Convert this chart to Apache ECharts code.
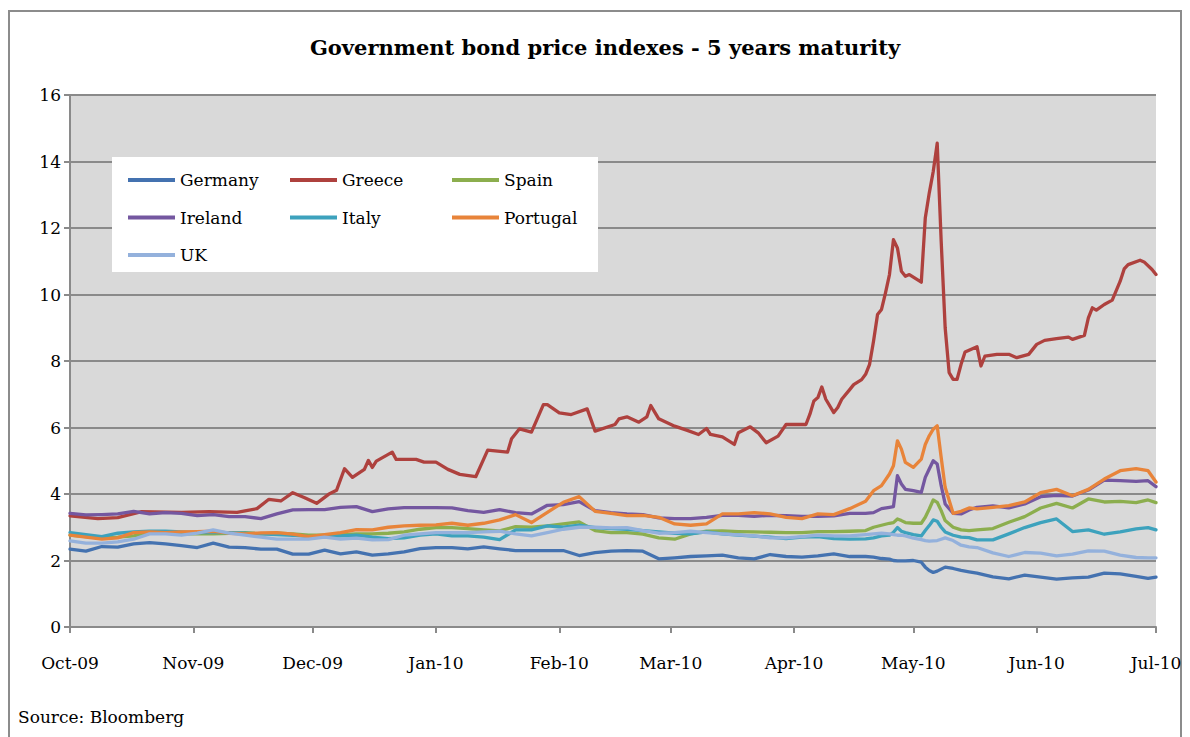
<!DOCTYPE html>
<html>
<head>
<meta charset="utf-8">
<script src="https://cdn.jsdelivr.net/npm/echarts@6/dist/echarts.min.js"></script>
<style>
  html, body { margin: 0; padding: 0; background: #fff; }
  #chart { width: 1190px; height: 737px; }
</style>
</head>
<body>
<div id="chart"></div>
<script>
// ---------------- DATA ----------------
const titleText = 'Government bond price indexes - 5 years maturity';
const sourceText = 'Source: Bloomberg';
const seriesNames = ['Germany', 'Greece', 'Spain', 'Ireland', 'Italy', 'Portugal', 'UK'];
const monthTicks = ['2009-10-01','2009-11-01','2009-12-01','2010-01-01','2010-02-01','2010-03-01',
                    '2010-04-01','2010-05-01','2010-06-01','2010-07-01'];
const monthNames = ['Jan','Feb','Mar','Apr','May','Jun','Jul','Aug','Sep','Oct','Nov','Dec'];
const yTicks = [0, 2, 4, 6, 8, 10, 12, 14, 16];

// Greece (own, finer sampling)
const greeceDates = [
 '2009-10-01','2009-10-08','2009-10-13','2009-10-19','2009-10-29','2009-11-05','2009-11-12','2009-11-17',
 '2009-11-20','2009-11-23','2009-11-26','2009-11-29','2009-12-02','2009-12-05','2009-12-07','2009-12-09',
 '2009-12-11','2009-12-14','2009-12-15','2009-12-16','2009-12-17','2009-12-21','2009-12-22','2009-12-27',
 '2009-12-29','2010-01-01','2010-01-04','2010-01-07','2010-01-11','2010-01-14','2010-01-19','2010-01-20',
 '2010-01-22','2010-01-25','2010-01-28','2010-01-29','2010-02-01','2010-02-04','2010-02-08','2010-02-10',
 '2010-02-15','2010-02-16','2010-02-18','2010-02-21','2010-02-23','2010-02-24','2010-02-26','2010-03-02',
 '2010-03-05','2010-03-08','2010-03-10','2010-03-11','2010-03-14','2010-03-17','2010-03-18','2010-03-21',
 '2010-03-23','2010-03-25','2010-03-28','2010-03-30','2010-04-04','2010-04-05','2010-04-06','2010-04-07',
 '2010-04-08','2010-04-09','2010-04-11','2010-04-12','2010-04-13','2010-04-15','2010-04-16','2010-04-18',
 '2010-04-19','2010-04-20','2010-04-21','2010-04-22','2010-04-23','2010-04-24','2010-04-25','2010-04-26',
 '2010-04-27','2010-04-28','2010-04-29','2010-04-30','2010-05-03','2010-05-04','2010-05-05','2010-05-06',
 '2010-05-07','2010-05-08','2010-05-09','2010-05-10','2010-05-11','2010-05-12','2010-05-13','2010-05-14',
 '2010-05-17','2010-05-18','2010-05-19','2010-05-22','2010-05-25','2010-05-27','2010-05-30','2010-06-01',
 '2010-06-03','2010-06-06','2010-06-09','2010-06-10','2010-06-13','2010-06-14','2010-06-15','2010-06-16',
 '2010-06-18','2010-06-20','2010-06-22','2010-06-23','2010-06-24','2010-06-27','2010-06-28','2010-06-30',
 '2010-07-01'];
const greece = [
 3.34,3.26,3.29,3.47,3.45,3.47,3.45,3.56,
 3.84,3.79,4.04,3.89,3.72,3.99,4.11,4.76,
 4.50,4.74,5.01,4.80,4.99,5.26,5.04,5.04,
 4.96,4.96,4.74,4.59,4.52,5.32,5.26,5.66,
 5.96,5.86,6.69,6.69,6.44,6.39,6.56,5.89,
 6.09,6.26,6.32,6.16,6.32,6.66,6.26,6.04,
 5.92,5.79,5.97,5.79,5.72,5.49,5.84,6.02,
 5.84,5.54,5.74,6.09,6.09,6.40,6.80,6.90,
 7.22,6.85,6.45,6.60,6.85,7.14,7.29,7.44,
 7.60,7.90,8.60,9.40,9.55,10.05,10.60,11.65,
 11.40,10.70,10.55,10.60,10.37,12.30,13.05,13.70,
 14.55,11.60,9.00,7.65,7.45,7.45,7.90,8.27,
 8.43,7.85,8.15,8.20,8.20,8.10,8.20,8.50,
 8.62,8.67,8.72,8.65,8.77,9.30,9.60,9.53,
 9.70,9.83,10.40,10.77,10.90,11.03,10.98,10.75,
 10.60];

// Shared sampling for the other six series
const dates = [
 '2009-10-01','2009-10-05','2009-10-09','2009-10-13','2009-10-17','2009-10-21','2009-10-25','2009-10-29',
 '2009-11-02','2009-11-06','2009-11-10','2009-11-14','2009-11-18','2009-11-22','2009-11-26','2009-11-30',
 '2009-12-04','2009-12-08','2009-12-12','2009-12-16','2009-12-20','2009-12-24','2009-12-28','2010-01-01',
 '2010-01-05','2010-01-09','2010-01-13','2010-01-17','2010-01-21','2010-01-25','2010-01-29','2010-02-02',
 '2010-02-06','2010-02-10','2010-02-14','2010-02-18','2010-02-22','2010-02-26','2010-03-02','2010-03-06',
 '2010-03-10','2010-03-14','2010-03-18','2010-03-22','2010-03-26','2010-03-30','2010-04-03','2010-04-07',
 '2010-04-11','2010-04-15','2010-04-19','2010-04-21','2010-04-23','2010-04-25','2010-04-26','2010-04-27',
 '2010-04-28','2010-04-29','2010-05-01','2010-05-03','2010-05-04','2010-05-05','2010-05-06','2010-05-07',
 '2010-05-08','2010-05-09','2010-05-11','2010-05-13','2010-05-15','2010-05-17','2010-05-21','2010-05-25',
 '2010-05-29','2010-06-02','2010-06-06','2010-06-10','2010-06-14','2010-06-18','2010-06-22','2010-06-26',
 '2010-06-29','2010-07-01'];

const germany = [
 2.34,2.28,2.42,2.40,2.50,2.54,2.50,2.45,
 2.39,2.52,2.40,2.39,2.34,2.34,2.19,2.19,
 2.31,2.20,2.26,2.16,2.20,2.26,2.36,2.39,
 2.39,2.35,2.41,2.35,2.30,2.30,2.30,2.30,
 2.15,2.24,2.28,2.30,2.28,2.05,2.08,2.12,
 2.14,2.16,2.08,2.05,2.18,2.12,2.10,2.14,
 2.20,2.12,2.12,2.10,2.06,2.04,2.00,1.99,
 1.99,1.99,2.00,1.95,1.80,1.70,1.64,1.68,
 1.74,1.80,1.76,1.70,1.66,1.62,1.51,1.45,
 1.56,1.50,1.44,1.48,1.50,1.62,1.60,1.52,
 1.46,1.50];

const spain = [
 2.76,2.72,2.68,2.70,2.74,2.82,2.84,2.80,
 2.80,2.80,2.82,2.84,2.80,2.82,2.80,2.76,
 2.76,2.78,2.80,2.80,2.82,2.86,2.94,2.99,
 2.99,2.96,2.92,2.89,3.02,3.00,3.04,3.10,
 3.16,2.90,2.84,2.84,2.79,2.68,2.64,2.80,
 2.88,2.89,2.87,2.86,2.85,2.84,2.84,2.87,
 2.87,2.88,2.90,3.00,3.06,3.12,3.14,3.25,
 3.20,3.14,3.12,3.12,3.30,3.55,3.82,3.75,
 3.50,3.20,3.00,2.92,2.90,2.92,2.96,3.15,
 3.32,3.58,3.72,3.58,3.85,3.76,3.78,3.74,
 3.82,3.74];

const ireland = [
 3.42,3.37,3.38,3.40,3.48,3.40,3.44,3.42,
 3.35,3.38,3.32,3.32,3.26,3.40,3.52,3.53,
 3.53,3.60,3.62,3.47,3.55,3.59,3.59,3.59,
 3.58,3.50,3.45,3.53,3.44,3.40,3.66,3.68,
 3.77,3.50,3.44,3.40,3.38,3.28,3.26,3.26,
 3.30,3.36,3.36,3.33,3.36,3.35,3.33,3.33,
 3.34,3.42,3.42,3.44,3.56,3.60,3.62,4.55,
 4.30,4.14,4.10,4.05,4.50,4.75,5.00,4.90,
 4.25,3.70,3.42,3.40,3.52,3.60,3.64,3.58,
 3.70,3.92,3.96,3.94,4.12,4.42,4.40,4.38,
 4.40,4.22];

const italy = [
 2.84,2.78,2.72,2.82,2.86,2.88,2.88,2.86,
 2.84,2.84,2.84,2.82,2.80,2.78,2.76,2.72,
 2.72,2.74,2.76,2.70,2.66,2.68,2.76,2.80,
 2.74,2.74,2.70,2.63,2.92,2.92,3.04,3.00,
 3.06,2.99,2.96,2.94,2.90,2.86,2.82,2.80,
 2.86,2.80,2.76,2.73,2.70,2.66,2.70,2.72,
 2.66,2.64,2.65,2.68,2.74,2.76,2.85,2.99,
 2.88,2.84,2.78,2.74,2.90,3.05,3.22,3.18,
 3.00,2.86,2.76,2.70,2.69,2.62,2.62,2.80,
 2.99,3.14,3.25,2.87,2.92,2.79,2.86,2.95,
 2.99,2.92];

const portugal = [
 2.76,2.70,2.64,2.68,2.84,2.86,2.84,2.86,
 2.87,2.88,2.82,2.80,2.83,2.84,2.79,2.72,
 2.78,2.84,2.93,2.92,3.00,3.04,3.06,3.07,
 3.12,3.06,3.12,3.22,3.38,3.14,3.45,3.75,
 3.92,3.48,3.42,3.35,3.36,3.30,3.10,3.06,
 3.10,3.40,3.40,3.44,3.40,3.30,3.26,3.40,
 3.38,3.56,3.78,4.10,4.25,4.60,4.85,5.60,
 5.35,4.95,4.80,5.05,5.49,5.75,5.95,6.05,
 5.10,4.20,3.42,3.48,3.58,3.55,3.60,3.65,
 3.76,4.04,4.14,3.95,4.14,4.45,4.70,4.76,
 4.70,4.36];

const uk = [
 2.59,2.52,2.52,2.56,2.64,2.80,2.80,2.76,
 2.82,2.92,2.82,2.76,2.70,2.64,2.64,2.64,
 2.70,2.64,2.67,2.62,2.63,2.76,2.80,2.84,
 2.84,2.84,2.86,2.88,2.80,2.74,2.84,2.94,
 3.00,3.00,2.98,2.99,2.90,2.82,2.84,2.88,
 2.84,2.80,2.77,2.74,2.68,2.68,2.72,2.76,
 2.74,2.74,2.78,2.80,2.82,2.80,2.78,2.76,
 2.76,2.74,2.67,2.63,2.60,2.58,2.59,2.60,
 2.64,2.68,2.60,2.46,2.41,2.39,2.23,2.12,
 2.24,2.22,2.14,2.19,2.29,2.28,2.16,2.09,
 2.08,2.08];

// ---------------- STYLE ----------------
const colors = {
  Germany: '#4472B0', Greece: '#AE413E', Spain: '#8CAE4E', Ireland: '#7457A0',
  Italy: '#3DA2BD', Portugal: '#E8843A', UK: '#94B1DC'
};
const FONT = '"DejaVu Serif", "Liberation Serif", serif';
const GRAY = '#8A8A8A';

function localTime(s) { return +new Date(s + 'T00:00:00'); }
function pairs(ds, vs) { return ds.map((d, i) => [localTime(d), vs[i]]); }

const seriesData = {
  Germany: pairs(dates, germany),
  Greece: pairs(greeceDates, greece),
  Spain: pairs(dates, spain),
  Ireland: pairs(dates, ireland),
  Italy: pairs(dates, italy),
  Portugal: pairs(dates, portugal),
  UK: pairs(dates, uk)
};
const monthTickValues = monthTicks.map(localTime);

const chart = echarts.init(document.getElementById('chart'), null, { renderer: 'svg' });

const legendCommon = {
  orient: 'vertical', top: 170, padding: 0,
  itemWidth: 47, itemHeight: 4, itemGap: 17.5, icon: 'rect',
  textStyle: { fontFamily: FONT, fontSize: 17, color: '#000', lineHeight: 20 },
  z: 101, selectedMode: false
};

const option = {
  animation: false,
  backgroundColor: '#fff',
  grid: { left: 70, right: 34, top: 95, bottom: 110, show: true, backgroundColor: '#D9D9D9', borderWidth: 0 },
  xAxis: {
    type: 'value',
    min: monthTickValues[0],
    max: monthTickValues[monthTickValues.length - 1],
    axisLine: { show: true, lineStyle: { color: GRAY, width: 2 } },
    axisTick: { show: true, length: 6, lineStyle: { color: GRAY, width: 2 },
                customValues: monthTickValues },
    axisLabel: {
      customValues: monthTickValues,
      showMinLabel: true, showMaxLabel: true,
      fontFamily: FONT, fontSize: 17, color: '#000', margin: 27,
      formatter: function (v) {
        const d = new Date(v);
        return monthNames[d.getMonth()] + '-' + String(d.getFullYear() % 100).padStart(2, '0');
      }
    },
    splitLine: { show: false }
  },
  yAxis: {
    type: 'value', min: yTicks[0], max: yTicks[yTicks.length - 1], interval: 2,
    axisLine: { show: true, lineStyle: { color: GRAY, width: 2 } },
    axisTick: { show: true, length: 6, lineStyle: { color: GRAY, width: 2 } },
    axisLabel: { fontFamily: FONT, fontSize: 17, color: '#000', margin: 9 },
    splitLine: { show: true, lineStyle: { color: GRAY, width: 2 } }
  },
  legend: [
    Object.assign({}, legendCommon, { left: 128, data: ['Germany', 'Ireland', 'UK'] }),
    Object.assign({}, legendCommon, { left: 290, data: ['Greece', 'Italy'] }),
    Object.assign({}, legendCommon, { left: 452, data: ['Spain', 'Portugal'] })
  ],
  graphic: [
    { type: 'rect', z: 100, silent: true,
      shape: { x: 112, y: 157, width: 486, height: 115 },
      style: { fill: '#fff' } },
    { type: 'rect', z: 0, silent: true,
      shape: { x: 9, y: 11, width: 1172, height: 740 },
      style: { fill: 'none', stroke: '#8C8C8C', lineWidth: 2 } },
    { type: 'text', z: 110, silent: true, x: 605, y: 47,
      style: { text: titleText, fill: '#000', font: 'bold 21px ' + FONT,
               textAlign: 'center', textVerticalAlign: 'middle' } },
    { type: 'text', z: 110, silent: true, x: 18, y: 717,
      style: { text: sourceText, fill: '#000', font: '17px ' + FONT,
               textAlign: 'left', textVerticalAlign: 'middle' } }
  ],
  series: seriesNames.map(name => ({
    name: name, type: 'line', data: seriesData[name],
    showSymbol: false, symbol: 'none', smooth: false,
    color: colors[name],
    lineStyle: { width: 3.3, color: colors[name], cap: 'round', join: 'round' },
    emphasis: { disabled: true }
  }))
};

chart.setOption(option);
</script>
</body>
</html>
